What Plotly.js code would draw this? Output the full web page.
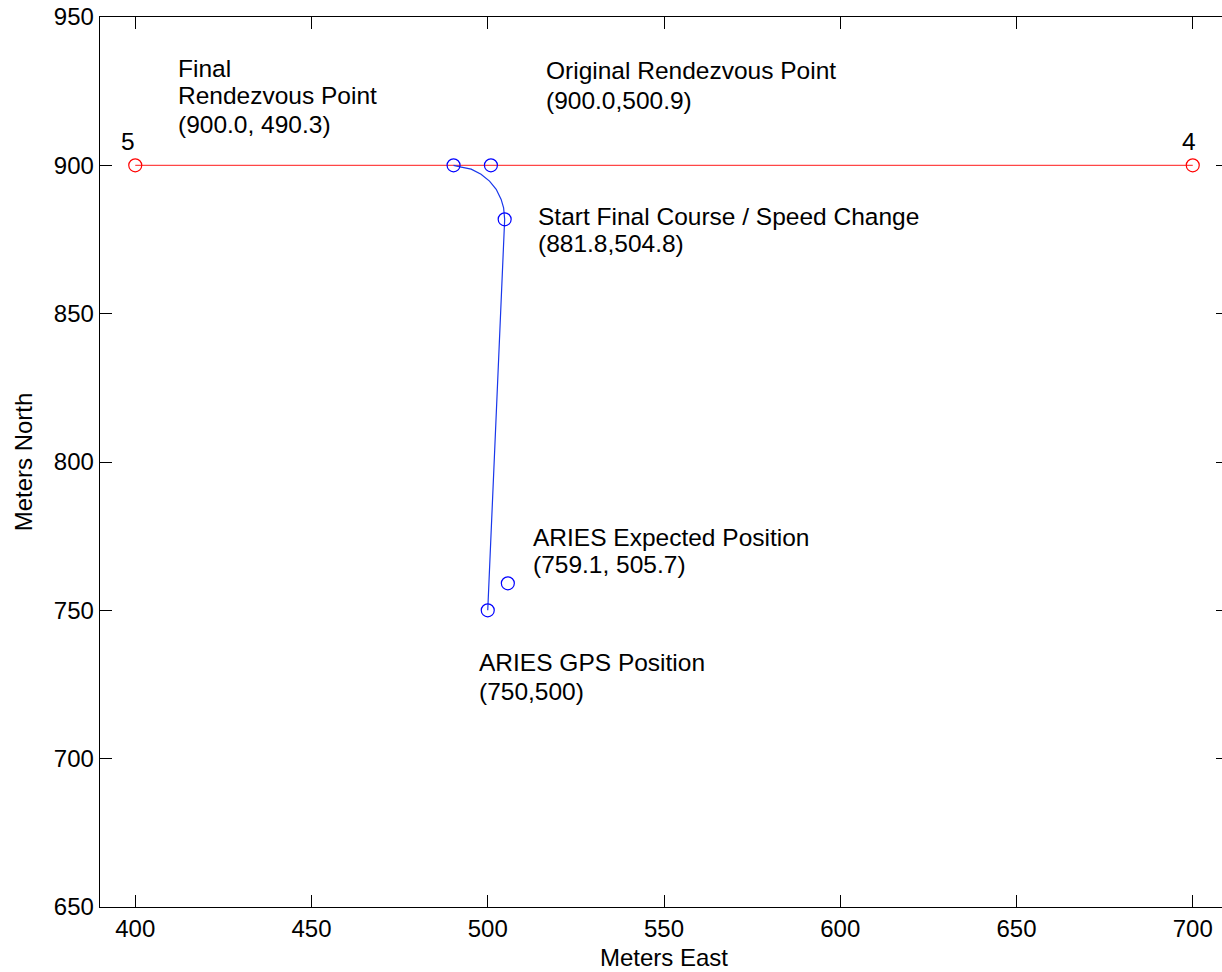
<!DOCTYPE html>
<html>
<head>
<meta charset="utf-8">
<script src="https://cdn.plot.ly/plotly-3.0.1.min.js"></script>
<style>
  html, body { margin: 0; padding: 0; overflow: hidden; background: #fff; width: 1222px; height: 972px; }
  #chart { width: 1240px; height: 972px; }
</style>
</head>
<body>
<div id="chart"></div>
<script>
// ---- data ----
const waypointEast = [400, 700];
const waypointNorth = [900, 900];
const waypointLabels = ['5', '4'];

// ARIES track: GPS position -> start of final course -> arc to final rendezvous
const trackEast = [500.0, 504.8, 504.5, 503.8, 502.4, 500.5, 498.1, 495.3, 492.5, 490.3];
const trackNorth = [750.0, 881.8, 885.7, 888.5, 891.9, 894.7, 897.0, 898.7, 899.4, 900.0];

// key points (blue open circles)
const keyEast = [490.3, 500.9, 504.8, 505.7, 500.0];
const keyNorth = [900.0, 900.0, 881.8, 759.1, 750.0];

const xTicks = [400, 450, 500, 550, 600, 650, 700];
const yTicks = [650, 700, 750, 800, 850, 900, 950];

const FONT = 'Arial, "Liberation Sans", Helvetica, sans-serif';

const traces = [
  {
    x: waypointEast, y: waypointNorth, type: 'scatter', mode: 'lines+markers',
    line: { color: 'rgb(255,70,70)', width: 1.2 },
    marker: { symbol: 'circle-open', size: 13, color: 'rgb(255,0,0)', line: { width: 1.2 } },
    hoverinfo: 'x+y', showlegend: false
  },
  {
    x: trackEast, y: trackNorth, type: 'scatter', mode: 'lines',
    line: { color: 'rgb(25,55,235)', width: 1.2 },
    hoverinfo: 'x+y', showlegend: false
  },
  {
    x: keyEast, y: keyNorth, type: 'scatter', mode: 'markers',
    marker: { symbol: 'circle-open', size: 13, color: 'rgb(0,0,255)', line: { width: 1.2 } },
    hoverinfo: 'x+y', showlegend: false
  }
];

function lab(x, y, text, anchor) {
  return { x: x, y: y, xref: 'x', yref: 'y', text: text, showarrow: false,
           xanchor: anchor || 'left', yanchor: 'middle',
           font: { family: FONT, size: 24.5, color: '#000' } };
}

const annotations = [
  lab(waypointEast[0] - 2.0, 907.9, waypointLabels[0], 'center'),
  lab(waypointEast[1] - 1.1, 907.9, waypointLabels[1], 'center'),
  lab(411.5, 932.8, 'Final'),
  lab(411.5, 923.4, 'Rendezvous Point'),
  lab(411.5, 913.9, '(900.0, 490.3)'),
  lab(516.0, 931.8, 'Original Rendezvous Point'),
  lab(516.0, 922.0, '(900.0,500.9)'),
  lab(513.8, 882.9, 'Start Final Course / Speed Change'),
  lab(513.8, 873.5, '(881.8,504.8)'),
  lab(512.3, 774.7, 'ARIES Expected Position'),
  lab(512.3, 765.3, '(759.1, 505.7)'),
  lab(497.0, 732.3, 'ARIES GPS Position'),
  lab(497.0, 722.8, '(750,500)')
];

const axisCommon = {
  showgrid: false, zeroline: false,
  showline: true, linecolor: '#000', linewidth: 1.3, mirror: 'ticks',
  ticks: 'inside', ticklen: 12, tickwidth: 1, tickcolor: '#000',
  tickfont: { family: FONT, size: 24, color: '#000' }
};

const layout = {
  width: 1240, height: 972,
  margin: { l: 100, r: 12, t: 17, b: 65 },
  paper_bgcolor: '#fff', plot_bgcolor: '#fff',
  font: { family: FONT, size: 24, color: '#000' },
  xaxis: Object.assign({}, axisCommon, {
    range: [390, 710], tickvals: xTicks, ticktext: xTicks.map(String),
    title: { text: 'Meters East', font: { family: FONT, size: 24, color: '#000' }, standoff: 8 }
  }),
  yaxis: Object.assign({}, axisCommon, {
    range: [650, 950], tickvals: yTicks, ticktext: yTicks.map(String),
    title: { text: 'Meters North', font: { family: FONT, size: 24, color: '#000' }, standoff: 14 }
  }),
  annotations: annotations,
  showlegend: false
};

Plotly.newPlot('chart', traces, layout, { staticPlot: true, displayModeBar: false });
</script>
</body>
</html>
